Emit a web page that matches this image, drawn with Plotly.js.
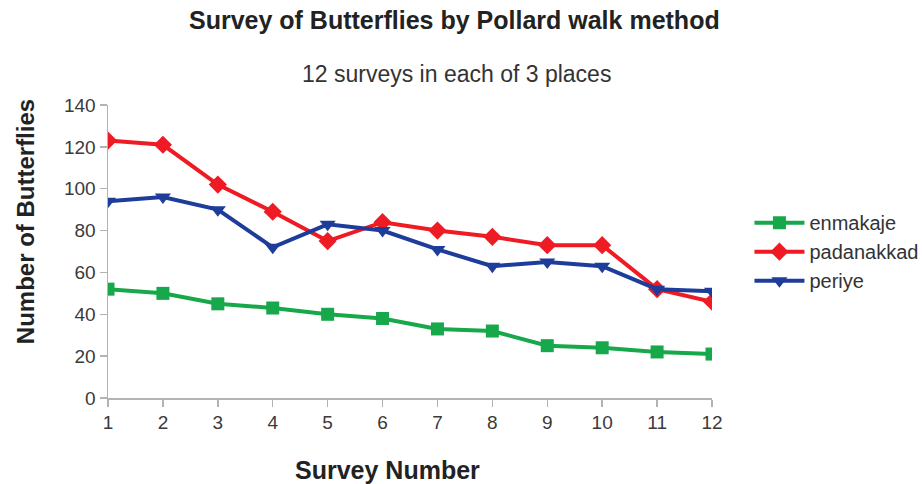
<!DOCTYPE html>
<html>
<head>
<meta charset="utf-8">
<script src="https://cdn.plot.ly/plotly-3.0.1.min.js"></script>
<style>html,body{margin:0;padding:0;background:#fff}#chart{width:922px;height:484px}</style>
</head>
<body>
<div id="chart"></div>
<script>
const surveys = [1,2,3,4,5,6,7,8,9,10,11,12];
const enmakaje = [52,50,45,43,40,38,33,32,25,24,22,21];
const padanakkad = [123,121,102,89,75,84,80,77,73,73,52,46];
const periye = [94,96,90,72,83,80,71,63,65,63,52,51];
const seriesNames = ['enmakaje','padanakkad','periye'];

const traces = [
  {x: surveys, y: enmakaje, name: seriesNames[0], mode: 'lines+markers',
   line: {color: '#16a84a', width: 4}, marker: {symbol: 'square', size: 13, color: '#16a84a'}},
  {x: surveys, y: padanakkad, name: seriesNames[1], mode: 'lines+markers',
   line: {color: '#ee1b24', width: 4}, marker: {symbol: 'diamond', size: 14, color: '#ee1b24'}},
  {x: surveys, y: periye, name: seriesNames[2], mode: 'lines+markers',
   line: {color: '#1e3d9a', width: 4}, marker: {symbol: 'triangle-down', size: 14, color: '#1e3d9a'}}
];

const font = 'Liberation Sans, Arial, sans-serif';
const layout = {
  width: 922, height: 484,
  margin: {l: 108, r: 210, t: 105, b: 86, autoexpand: false},
  paper_bgcolor: '#fff', plot_bgcolor: '#fff',
  font: {family: font, color: '#333', size: 18},
  showlegend: true,
  legend: {x: 1.062, y: 0.665, xanchor: 'left', yanchor: 'top', itemwidth: 50,
           font: {size: 20, color: '#333'}, tracegroupgap: 0},
  xaxis: {
    range: [1, 12], tickvals: surveys, showgrid: false, zeroline: false,
    showline: true, linecolor: '#b3b3b3', linewidth: 1.5,
    ticks: 'outside', ticklen: 7, tickcolor: '#b3b3b3', tickwidth: 1.5,
    tickfont: {size: 19, color: '#3a3a3a'}
  },
  yaxis: {
    range: [0, 140], dtick: 20, showgrid: false, zeroline: false,
    showline: true, linecolor: '#b3b3b3', linewidth: 1.5,
    ticks: 'outside', ticklen: 7, tickcolor: '#b3b3b3', tickwidth: 1.5,
    tickfont: {size: 19, color: '#3a3a3a'}
  },
  annotations: [
    {text: '<b>Survey of Butterflies by Pollard walk method</b>', xref: 'paper', yref: 'paper',
     x: 0.574, y: 1.0, yshift: 85, xanchor: 'center', yanchor: 'middle', showarrow: false,
     font: {size: 25, color: '#222'}},
    {text: '12 surveys in each of 3 places', xref: 'paper', yref: 'paper',
     x: 0.577, y: 1.0, yshift: 31, xanchor: 'center', yanchor: 'middle', showarrow: false,
     font: {size: 23, color: '#333'}},
    {text: '<b>Survey Number</b>', xref: 'paper', yref: 'paper',
     x: 0.462, y: 0, yshift: -72, xanchor: 'center', yanchor: 'middle', showarrow: false,
     font: {size: 25, color: '#222'}},
    {text: '<b>Number of Butterflies</b>', xref: 'paper', yref: 'paper', textangle: -90,
     x: 0, xshift: -83, y: 0.6, xanchor: 'center', yanchor: 'middle', showarrow: false,
     font: {size: 24, color: '#222'}}
  ]
};
Plotly.newPlot('chart', traces, layout, {displayModeBar: false, staticPlot: true});
</script>
</body>
</html>
